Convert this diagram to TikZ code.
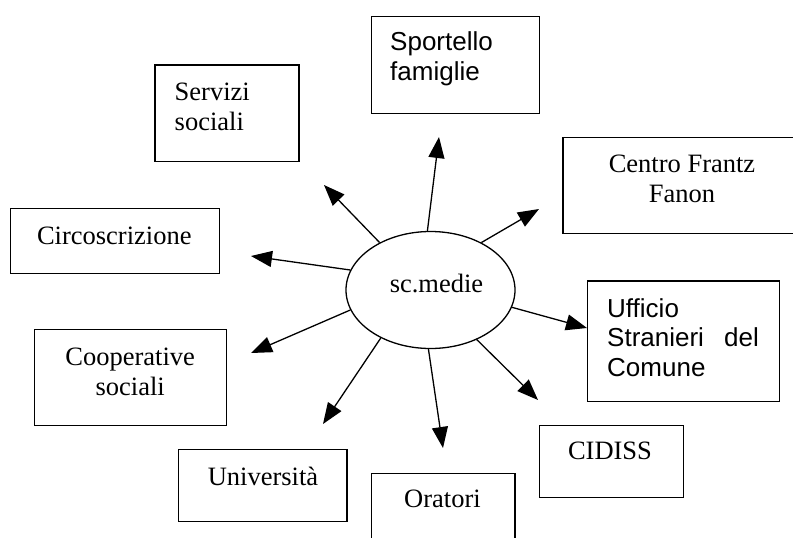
\documentclass[tikz,border=0pt]{standalone}
\usepackage{fontspec}
\setmainfont{Liberation Serif}
\newfontfamily\arialf{Liberation Sans}
\usetikzlibrary{arrows.meta,shapes.geometric}

\begin{document}
\begin{tikzpicture}[x=1pt,y=-1pt,
  box/.style={draw, line width=1.3pt, rectangle, inner sep=0pt, anchor=north west},
  txt/.style={inner sep=0pt, font=\fontsize{26.5}{30}\selectfont},
  stxt/.style={inner sep=0pt, font=\arialf\fontsize{26}{29.5}\selectfont},
  arr/.style={line width=1.3pt, -{Triangle[length=21pt,width=16pt]}}]

\clip (0,0) rectangle (793,538);
\fill[white] (0,0) rectangle (793,538);

% outer boxes
\node[box, minimum width=168pt, minimum height=96.4pt] (sport) at (370.7,16.1) {};
\node[box, minimum width=144pt, minimum height=96.4pt] (serv) at (154.3,64.2) {};
\node[box, minimum width=240pt, minimum height=96pt] (centro) at (562.4,136.6) {};
\node[box, minimum width=208.4pt, minimum height=65.2pt] (circ) at (10.1,207.9) {};
\node[box, minimum width=192.2pt, minimum height=120.5pt] (uff) at (586.7,280.3) {};
\node[box, minimum width=192.2pt, minimum height=96.1pt] (coop) at (33.9,328.7) {};
\node[box, minimum width=168.4pt, minimum height=72pt] (univ) at (178,448.5) {};
\node[box, minimum width=143.7pt, minimum height=90pt] (orat) at (370.7,472.8) {};
\node[box, minimum width=144.2pt, minimum height=71.7pt] (cid) at (538.6,424.8) {};

% box labels
\node[stxt, anchor=west, align=left] (sport-t) at (390,59) {Sportello\\famiglie};
\node[txt, anchor=west, align=left] (serv-t) at (174.5,107) {Servizi\\sociali};
\node[txt, align=center] (centro-t) at (682,179) {Centro Frantz\\Fanon};
\node[txt] (circ-t) at (114.3,236) {Circoscrizione};
\node[stxt, anchor=west, align=left] (uff-t) at (607,337.5)
  {Ufficio\\\makebox[151.7pt][s]{Stranieri del}\\Comune};
\node[txt, align=center] (coop-t) at (130.2,372) {Cooperative\\sociali};
\node[txt] (univ-t) at (263,476) {Università};
\node[txt] (orat-t) at (442.5,499) {Oratori};
\node[txt] (cid-t) at (610,451) {CIDISS};

% centre
\node[draw, line width=1.3pt, ellipse, minimum width=169pt, minimum height=117pt, inner sep=0pt]
  (c) at (430.5,290) {};
\node[txt] (c-t) at (436.5,283) {sc.medie};

% arrow tips
\coordinate (t1) at (439,137);
\coordinate (t2) at (324,185);
\coordinate (t3) at (539,209);
\coordinate (t4) at (251,256);
\coordinate (t5) at (587,328);
\coordinate (t6) at (251,353);
\coordinate (t7) at (323,424);
\coordinate (t8) at (443,448);
\coordinate (t9) at (538,400);

\draw[arr] (c.93.5) -- (t1);
\draw[arr] (c.137.7) -- (t2);
\draw[arr] (c.43.5) -- (t3);
\draw[arr] (c.166.4) -- (t4);
\draw[arr] (c.-12.3) -- (t5);
\draw[arr] (c.194.4) -- (t6);
\draw[arr] (c.224.2) -- (t7);
\draw[arr] (c.268.6) -- (t8);
\draw[arr] (c.-47) -- (t9);
\end{tikzpicture}
\end{document}
